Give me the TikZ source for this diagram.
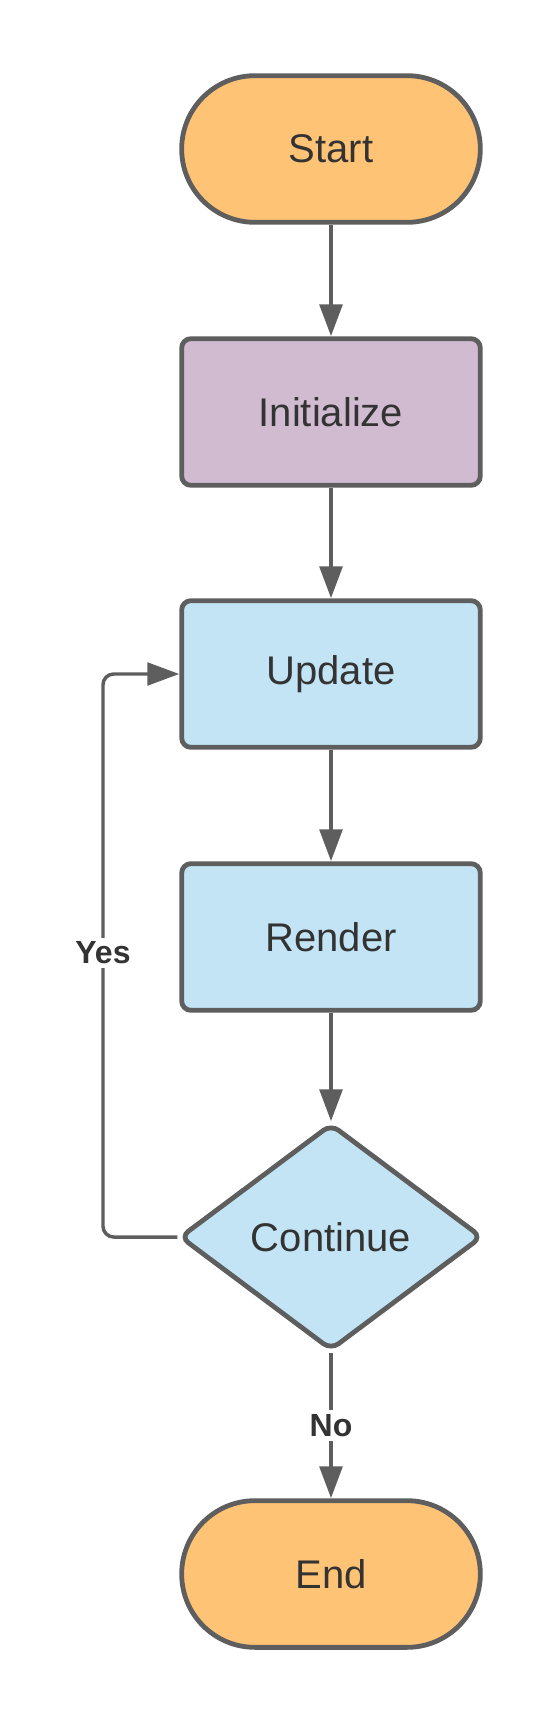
\documentclass[tikz,border=0pt]{standalone}
\usepackage{fontspec}
\setmainfont{Liberation Sans}
\usetikzlibrary{shapes.geometric,arrows.meta}
\definecolor{edgegray}{RGB}{94,94,94}
\definecolor{textgray}{RGB}{51,51,51}
\definecolor{termorange}{RGB}{255,195,118}
\definecolor{initpurple}{RGB}{209,187,208}
\definecolor{procblue}{RGB}{195,228,245}
\tikzset{
  terminal/.style={draw=edgegray,line width=3.6pt,fill=termorange,rectangle,rounded corners=55pt,minimum width=224pt,minimum height=110pt,text=textgray,font=\fontsize{30}{36}\selectfont},
  process/.style={draw=edgegray,line width=3.6pt,rectangle,rounded corners=7pt,minimum width=224pt,minimum height=110pt,text=textgray,font=\fontsize{30}{36}\selectfont},
  decision/.style={draw=edgegray,line width=3.6pt,fill=procblue,diamond,aspect=1.33,rounded corners=7pt,minimum width=227pt,minimum height=170pt,inner sep=0pt,text=textgray,font=\fontsize{30}{36}\selectfont},
  flow/.style={draw=edgegray,line width=3pt,-{Triangle[length=24pt,width=17pt]}},
  loopflow/.style={draw=edgegray,line width=2.6pt,rounded corners=8pt,-{Triangle[length=24pt,width=17pt]}},
  edgelabel/.style={fill=white,text=textgray,font=\bfseries\fontsize{24}{28}\selectfont,inner sep=3pt}
}
\begin{document}
\begin{tikzpicture}[x=0.75pt,y=0.75pt,yscale=-1]
\path[use as bounding box,fill=white] (0,0) rectangle (557,1725);

%Shape: Terminal
\node[terminal] (start) at (331,149) {Start};
%Shape: Process
\node[process,fill=initpurple] (init) at (331,412) {Initialize};
\node[process,fill=procblue] (update) at (331,674) {Update};
\node[process,fill=procblue] (render) at (331,937) {Render};
%Shape: Decision
\node[decision] (cont) at (331,1237) {Continue};
%Shape: Terminal
\node[terminal] (finish) at (331,1574) {End};

%Straight Lines
\draw[flow] (start) -- (init);
\draw[flow] (init) -- (update);
\draw[flow] (update) -- (render);
\draw[flow] (render) -- (cont);
\draw[flow] (cont) -- node[edgelabel] (nolbl) {No} (finish);

%Shape: Loop back
\coordinate (loopbot) at (103,1237);
\coordinate (looptop) at (103,674);
\draw[loopflow] (cont.west) -- (loopbot) -- (looptop) -- (update.west);
% Text Node
\node[edgelabel] (yeslbl) at (103,953) {Yes};
\end{tikzpicture}
\end{document}
